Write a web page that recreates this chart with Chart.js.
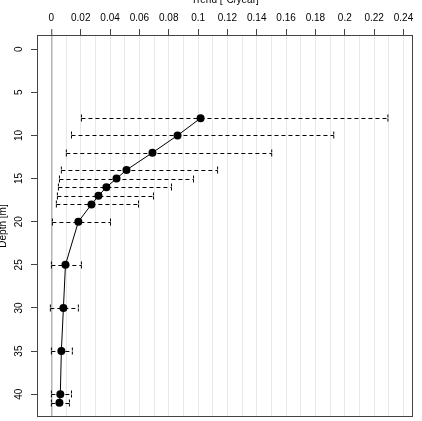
<!DOCTYPE html>
<html>
<head>
<meta charset="utf-8">
<title>Trend by depth</title>
<script src="https://cdn.jsdelivr.net/npm/chart.js@4/dist/chart.umd.min.js"></script>
<style>
    html, body { margin: 0; padding: 0; background: #fff; }
    #trendChart { display: block; }
</style>
</head>
<body>
<canvas id="trendChart" width="422" height="421"></canvas>
<script>
// Sensor depths (m)
const depths = [8, 10, 12, 14, 15, 16, 17, 18, 20, 25, 30, 35, 40, 41];

// Trend estimate per depth (°C/year)
const trends = [0.1017, 0.0860, 0.0689, 0.0512, 0.0444, 0.0375, 0.0321, 0.0273, 0.0184, 0.0096, 0.0082, 0.0068, 0.0061, 0.0055];

// Confidence interval ends
const lowerBounds = [0.0205, 0.0137, 0.0102, 0.0068, 0.0055, 0.0048, 0.0041, 0.0034, 0.0007, 0.0000, -0.0007, 0.0000, 0.0000, 0.0000];
const upperBounds = [0.2294, 0.1925, 0.1502, 0.1133, 0.0969, 0.0819, 0.0696, 0.0594, 0.0403, 0.0205, 0.0184, 0.0143, 0.0137, 0.0123];

// Axis ticks
const xTickLabels = ["0", "0.02", "0.04", "0.06", "0.08", "0.1", "0.12", "0.14", "0.16", "0.18", "0.2", "0.22", "0.24"];
const depthTicks = [0, 5, 10, 15, 20, 25, 30, 35, 40];

Chart.defaults.font.family = "'Liberation Sans', Arial, sans-serif";
Chart.defaults.font.size = 10;
Chart.defaults.color = "#000";

// Dashed error bars, drawn under the line and points
const errorBars = {
    id: "errorBars",
    beforeDatasetsDraw(chart) {
        const ctx = chart.ctx;
        const xs = chart.scales.x;
        const ys = chart.scales.y;
        ctx.save();
        ctx.strokeStyle = "#000";
        ctx.lineWidth = 1;
        depths.forEach((d, i) => {
            const y = Math.round(ys.getPixelForValue(d)) + 0.5;
            const x1 = xs.getPixelForValue(lowerBounds[i]);
            const x2 = xs.getPixelForValue(upperBounds[i]);
            ctx.setLineDash([4, 3]);
            ctx.beginPath();
            ctx.moveTo(x1, y);
            ctx.lineTo(x2, y);
            ctx.stroke();
            ctx.setLineDash([3, 1]);
            ctx.beginPath();
            ctx.moveTo(x1, y - 4);
            ctx.lineTo(x1, y + 4);
            ctx.moveTo(x2, y - 4);
            ctx.lineTo(x2, y + 4);
            ctx.stroke();
        });
        ctx.restore();
    },
};

// Box round the plot region
const plotBox = {
    id: "plotBox",
    afterDraw(chart) {
        const a = chart.chartArea;
        const ctx = chart.ctx;
        ctx.save();
        ctx.strokeStyle = "#444";
        ctx.lineWidth = 1;
        ctx.strokeRect(a.left + 0.5, a.top + 0.5, a.right - a.left - 1, a.bottom - a.top - 1);
        ctx.restore();
    },
};

const ctx = document.getElementById("trendChart").getContext("2d");

const trendChart = new Chart(ctx, {
    type: "scatter",
    data: {
        datasets: [
            {
                data: depths.map((d, i) => ({ x: trends[i], y: d })),
                showLine: true,
                borderColor: "#000",
                borderWidth: 1,
                backgroundColor: "#000",
                pointRadius: 4,
                pointBorderWidth: 0,
                tension: 0,
            },
        ],
    },
    options: {
        responsive: false,
        animation: false,
        devicePixelRatio: 1,
        layout: {
            padding: { left: 0, top: 0, right: 9, bottom: 3 },
        },
        scales: {
            x: {
                type: "linear",
                position: "top",
                min: -0.0098,
                max: 0.2465,
                afterBuildTicks(scale) {
                    // one grid line every 0.01, labelled every 0.02
                    const t = [];
                    for (let i = 0; i <= 24; i++) t.push({ value: i / 100 });
                    scale.ticks = t;
                },
                afterFit(scale) {
                    scale.height = 35;
                    scale.paddingLeft = 0;
                    scale.paddingRight = 0;
                },
                ticks: {
                    autoSkip: false,
                    maxRotation: 0,
                    padding: 5,
                    callback: (value, index) => (index % 2 === 0 ? xTickLabels[index / 2] : ""),
                },
                grid: {
                    color: (c) => (c.tick && c.tick.value === 0 ? "#b4b4b4" : "#e8e8e8"),
                    lineWidth: (c) => (c.tick && c.tick.value === 0 ? 1.5 : 1),
                    tickColor: (c) => (c.index % 2 === 0 ? "#444" : "rgba(0,0,0,0)"),
                    tickLength: 6,
                    tickWidth: 1,
                },
                border: { display: false },
                title: {
                    display: true,
                    text: "Trend [°C/year]",
                    font: { size: 10 },
                    padding: { top: -6, bottom: 0 },
                },
            },
            y: {
                type: "linear",
                position: "left",
                reverse: true,
                min: -1.64,
                max: 42.64,
                afterBuildTicks(scale) {
                    scale.ticks = depthTicks.map((v) => ({ value: v }));
                },
                afterFit(scale) {
                    scale.width = 37;
                    scale.paddingTop = 0;
                    scale.paddingBottom = 0;
                },
                ticks: {
                    minRotation: 90,
                    maxRotation: 90,
                    crossAlign: "center",
                    padding: 6,
                },
                grid: {
                    drawOnChartArea: false,
                    tickColor: "#444",
                    tickLength: 6,
                },
                border: { display: false },
                title: {
                    display: true,
                    text: "Depth [m]",
                    font: { size: 10 },
                    padding: { top: -3, bottom: 0 },
                },
            },
        },
        plugins: {
            legend: { display: false },
            tooltip: { enabled: false },
        },
    },
    plugins: [errorBars, plotBox],
});
</script>
</body>
</html>
